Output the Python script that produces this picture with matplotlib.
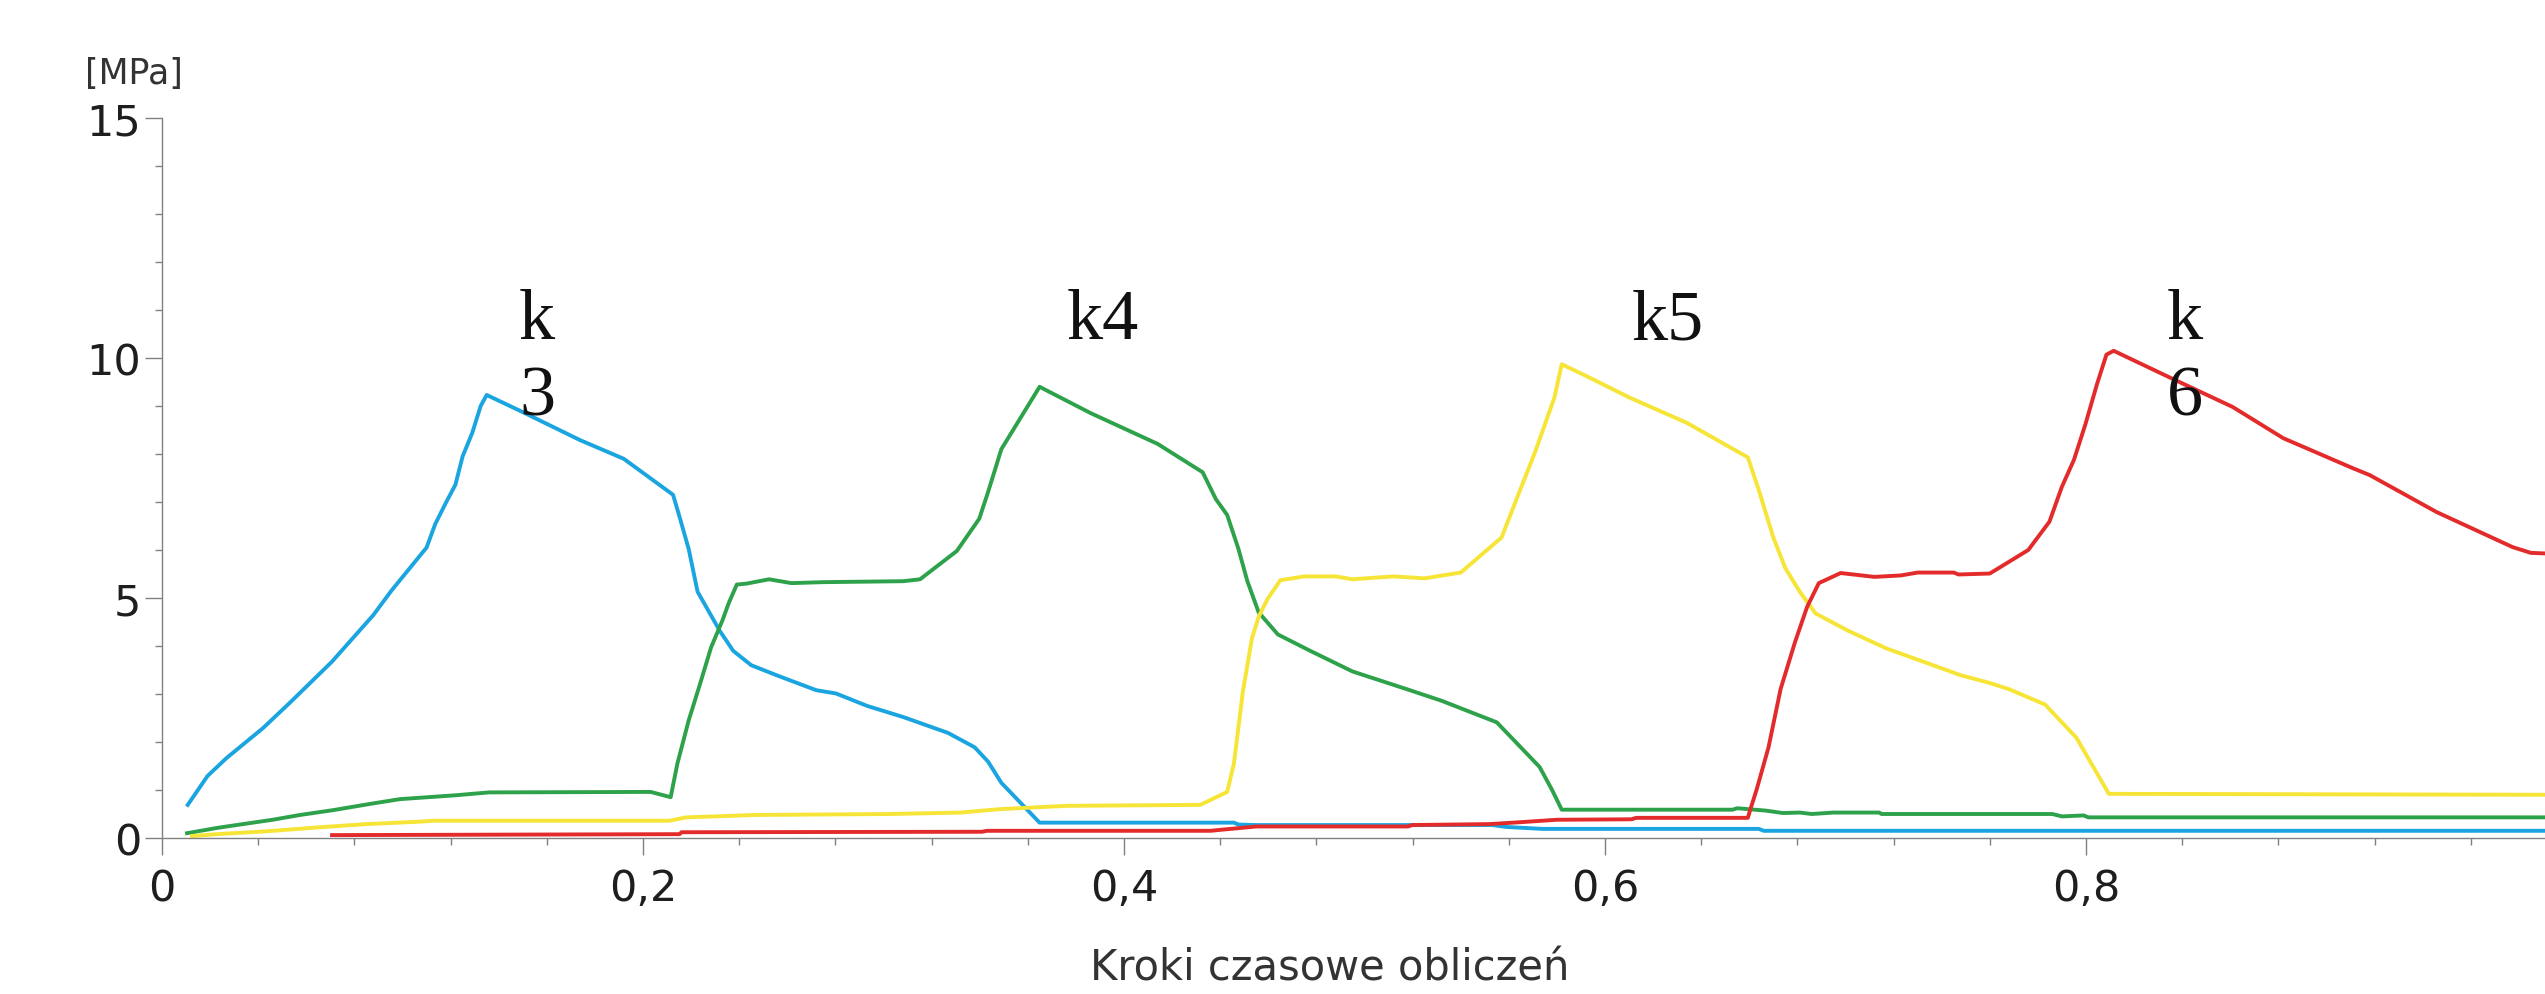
import matplotlib
matplotlib.use("Agg")
import matplotlib.pyplot as plt
from matplotlib.ticker import MultipleLocator

# values (x = relative time step, y = stress in MPa)
k3_x = [0.0107, 0.0189, 0.0267, 0.042, 0.053, 0.0706, 0.0878, 0.0955, 0.110, 0.1136,
        0.118, 0.122, 0.125, 0.129, 0.1325, 0.135, 0.1497, 0.1738, 0.192, 0.2125,
        0.2152, 0.219, 0.2227, 0.232, 0.2375, 0.245, 0.2561, 0.272, 0.2803, 0.2933,
        0.3082, 0.3268, 0.3379, 0.3435, 0.349, 0.3649, 0.4457, 0.4476, 0.455, 0.553,
        0.559, 0.574, 0.664, 0.666, 0.995]
k3_y = [0.69, 1.29, 1.66, 2.29, 2.81, 3.67, 4.64, 5.16, 6.05, 6.54,
        6.98, 7.36, 7.95, 8.44, 9.0, 9.23, 8.88, 8.29, 7.9, 7.15,
        6.69, 6.02, 5.13, 4.31, 3.90, 3.60, 3.38, 3.08, 3.01, 2.75,
        2.52, 2.19, 1.89, 1.59, 1.15, 0.32, 0.32, 0.28, 0.27, 0.27,
        0.23, 0.19, 0.19, 0.15, 0.15]

k4_x = [0.0104, 0.0229, 0.0337, 0.046, 0.0574, 0.0711, 0.0877, 0.099, 0.122, 0.136,
        0.2032, 0.2115, 0.2143, 0.219, 0.2236, 0.2283, 0.233, 0.2357, 0.239, 0.2431,
        0.2524, 0.2617, 0.2747, 0.3082, 0.3152, 0.3305, 0.3398, 0.3435, 0.349, 0.3649,
        0.3862, 0.414, 0.4327, 0.4382, 0.4429, 0.4476, 0.4513, 0.456, 0.464, 0.477,
        0.495, 0.5176, 0.532, 0.555, 0.5728, 0.578, 0.582, 0.653, 0.655, 0.667,
        0.674, 0.681, 0.686, 0.695, 0.714, 0.715, 0.786, 0.79, 0.799, 0.801, 0.995]
k4_y = [0.10, 0.21, 0.29, 0.38, 0.48, 0.58, 0.72, 0.81, 0.89, 0.95,
        0.96, 0.85, 1.55, 2.45, 3.19, 3.97, 4.53, 4.90, 5.28, 5.30,
        5.39, 5.31, 5.33, 5.35, 5.39, 5.98, 6.65, 7.21, 8.10, 9.40,
        8.85, 8.21, 7.62, 7.06, 6.73, 6.02, 5.35, 4.70, 4.24, 3.91,
        3.47, 3.10, 2.86, 2.41, 1.48, 1.00, 0.59, 0.59, 0.62, 0.57,
        0.52, 0.53, 0.50, 0.53, 0.53, 0.50, 0.50, 0.45, 0.47, 0.43, 0.43]

k5_x = [0.0125, 0.0229, 0.0437, 0.0645, 0.0852, 0.107, 0.113, 0.211, 0.218, 0.247,
        0.303, 0.332, 0.348, 0.376, 0.4317, 0.4429, 0.4457, 0.4494, 0.4532, 0.456,
        0.4597, 0.465, 0.475, 0.488, 0.495, 0.512, 0.525, 0.540, 0.557, 0.564,
        0.571, 0.579, 0.582, 0.592, 0.610, 0.634, 0.6594, 0.664, 0.670, 0.675,
        0.681, 0.6875, 0.701, 0.717, 0.748, 0.760, 0.768, 0.783, 0.796, 0.8095, 0.995]
k5_y = [0.04, 0.08, 0.14, 0.22, 0.29, 0.34, 0.36, 0.36, 0.43, 0.48,
        0.50, 0.53, 0.60, 0.67, 0.69, 0.96, 1.55, 3.04, 4.16, 4.61,
        4.98, 5.37, 5.45, 5.45, 5.39, 5.45, 5.41, 5.53, 6.26, 7.16,
        8.05, 9.18, 9.87, 9.63, 9.18, 8.65, 7.93, 7.24, 6.26, 5.62,
        5.13, 4.68, 4.32, 3.95, 3.39, 3.23, 3.10, 2.78, 2.09, 0.92, 0.90]

k6_x = [0.0707, 0.2152, 0.216, 0.341, 0.343, 0.436, 0.44, 0.455, 0.518, 0.52,
        0.552, 0.565, 0.58, 0.611, 0.613, 0.6594, 0.6604, 0.663, 0.668, 0.673,
        0.679, 0.684, 0.6889, 0.698, 0.712, 0.723, 0.730, 0.745, 0.747, 0.760,
        0.776, 0.7848, 0.790, 0.795, 0.7997, 0.8046, 0.8085, 0.8115, 0.835, 0.861,
        0.882, 0.9102, 0.918, 0.9458, 0.9774, 0.985, 0.995]
k6_y = [0.06, 0.08, 0.12, 0.13, 0.15, 0.15, 0.17, 0.24, 0.24, 0.27,
        0.29, 0.33, 0.38, 0.39, 0.42, 0.42, 0.59, 1.0, 1.89, 3.10,
        4.08, 4.81, 5.31, 5.52, 5.44, 5.47, 5.53, 5.53, 5.49, 5.51,
        6.0, 6.59, 7.32, 7.88, 8.61, 9.46, 10.07, 10.15, 9.59, 8.98,
        8.33, 7.72, 7.56, 6.79, 6.06, 5.94, 5.92]

x_ticks = [0, 0.2, 0.4, 0.6, 0.8, 1.0]
x_tick_labels = ["0", "0,2", "0,4", "0,6", "0,8", "1"]
y_ticks = [0, 5, 10, 15]

labels = ["k\n3", "k4", "k5", "k\n6"]
label_x = [0.156, 0.391, 0.626, 0.841]

plt.rcParams["font.family"] = ["DejaVu Sans"]

fig = plt.figure(figsize=(25.45, 9.95), dpi=100)
# axes run past the right edge, like the cropped original
ax = fig.add_axes([162 / 2545, 156 / 995, 2405 / 2545, 720 / 995])

ax.plot(k3_x, k3_y, color="#1ba5e0", lw=2.8)
ax.plot(k4_x, k4_y, color="#2ea24a", lw=2.8)
ax.plot(k5_x, k5_y, color="#f6e536", lw=2.8)
ax.plot(k6_x, k6_y, color="#e32b2b", lw=2.8)

for txt, xp in zip(labels, label_x):
    ax.text(xp, 11.45, txt, ha="center", va="top", fontsize=52,
            family="Liberation Serif", color="#111111", linespacing=1.22)

ax.set_xlim(0, 1)
ax.set_ylim(0, 15)
ax.set_xticks(x_ticks)
ax.set_xticklabels(x_tick_labels)
ax.set_yticks(y_ticks)
ax.xaxis.set_minor_locator(MultipleLocator(0.04))
ax.yaxis.set_minor_locator(MultipleLocator(1))

for s in ["top", "right"]:
    ax.spines[s].set_visible(False)
for s in ["left", "bottom"]:
    ax.spines[s].set_color("#808080")
    ax.spines[s].set_linewidth(1.0)

ax.tick_params(which="major", length=12, width=1.0, color="#808080",
               labelsize=31, labelcolor="#1e1e1e")
ax.tick_params(which="minor", length=5, width=1.0, color="#808080")
ax.tick_params(axis="x", which="major", pad=9)
ax.tick_params(axis="y", which="major", pad=3)

fig.text(134 / 2545, 1 - 74 / 995, "[MPa]", ha="center", va="center",
         fontsize=25, color="#333333")
fig.text(1330 / 2545, 1 - 969 / 995, "Kroki czasowe obliczeń", ha="center",
         va="center", fontsize=30, color="#333333")

fig.savefig("out.png", dpi=100)
